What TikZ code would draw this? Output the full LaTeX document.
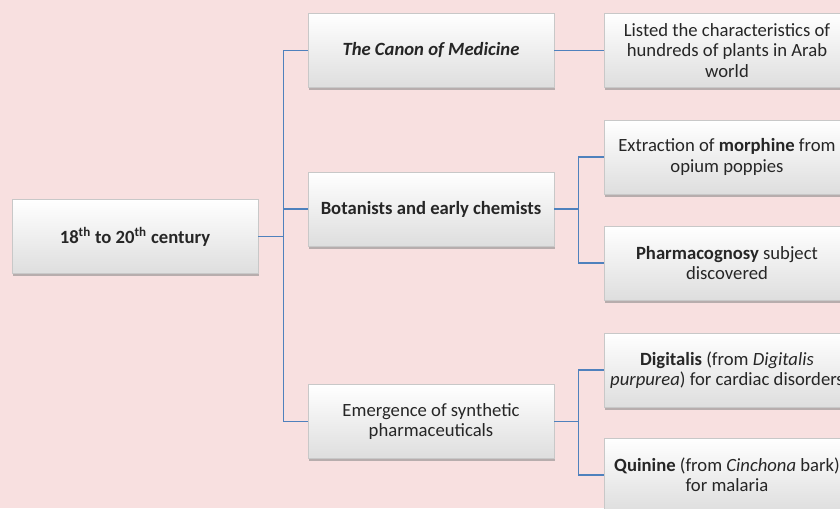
\documentclass[tikz,border=0pt]{standalone}
\usepackage{fontspec}
\setmainfont{Carlito}
\usetikzlibrary{shadows}
\definecolor{pinkbg}{HTML}{F8E0E0}
\definecolor{linkblue}{HTML}{4F81BD}
\definecolor{boxedge}{HTML}{C8C8C8}

\begin{document}
\begin{tikzpicture}[x=0.75pt,y=-0.75pt,every node/.style={font=\fontsize{14}{15.2}\selectfont,text=black!85},
  box/.style={draw=boxedge,line width=.4pt,top color=white,bottom color=black!13,align=center,minimum width=184.5pt,minimum height=55.5pt,inner sep=2pt,drop shadow={shadow xshift=1pt,shadow yshift=-2pt,fill=black!45,opacity=.6}},
  link/.style={draw=linkblue,line width=.9pt}]
\fill[pinkbg] (0,0) rectangle (840,508);
\useasboundingbox (0,0) rectangle (840,508);
\node[box] (root) at (135,236.5) {\textbf{18\textsuperscript{th} to 20\textsuperscript{th} century}};
\node[box] (canon) at (431,50.5) {\textbf{\textit{The Canon of Medicine}}};
\node[box] (botan) at (431,209) {\textbf{Botanists and early chemists}};
\node[box] (synth) at (431,421.5) {Emergence of synthetic\\pharmaceuticals};
\node[box] (listed) at (727,50.5) {Listed the characteristics of\\hundreds of plants in Arab\\world};
\node[box] (morph) at (727,157) {Extraction of \textbf{morphine} from\\opium poppies};
\node[box] (pharm) at (727,263) {\textbf{Pharmacognosy} subject\\discovered};
\node[box] (digit) at (727,370) {\textbf{Digitalis} (from \textit{Digitalis}\\\textit{purpurea}) for cardiac disorders};
\node[box] (quin) at (727,475) {\textbf{Quinine} (from \textit{Cinchona} bark)\\for malaria};
% tree links
\draw[link] (root.east)--++(25,0)|-(canon.west);\draw[link] (root.east)--++(25,0)|-(botan.west);\draw[link] (root.east)--++(25,0)|-(synth.west);
\draw[link] (canon)--(listed);
\draw[link] (botan.east)--++(24,0)|-(morph.west);\draw[link] (botan.east)--++(24,0)|-(pharm.west);
\draw[link] (synth.east)--++(24,0)|-(digit.west);\draw[link] (synth.east)--++(24,0)|-(quin.west);
\end{tikzpicture}
\end{document}
